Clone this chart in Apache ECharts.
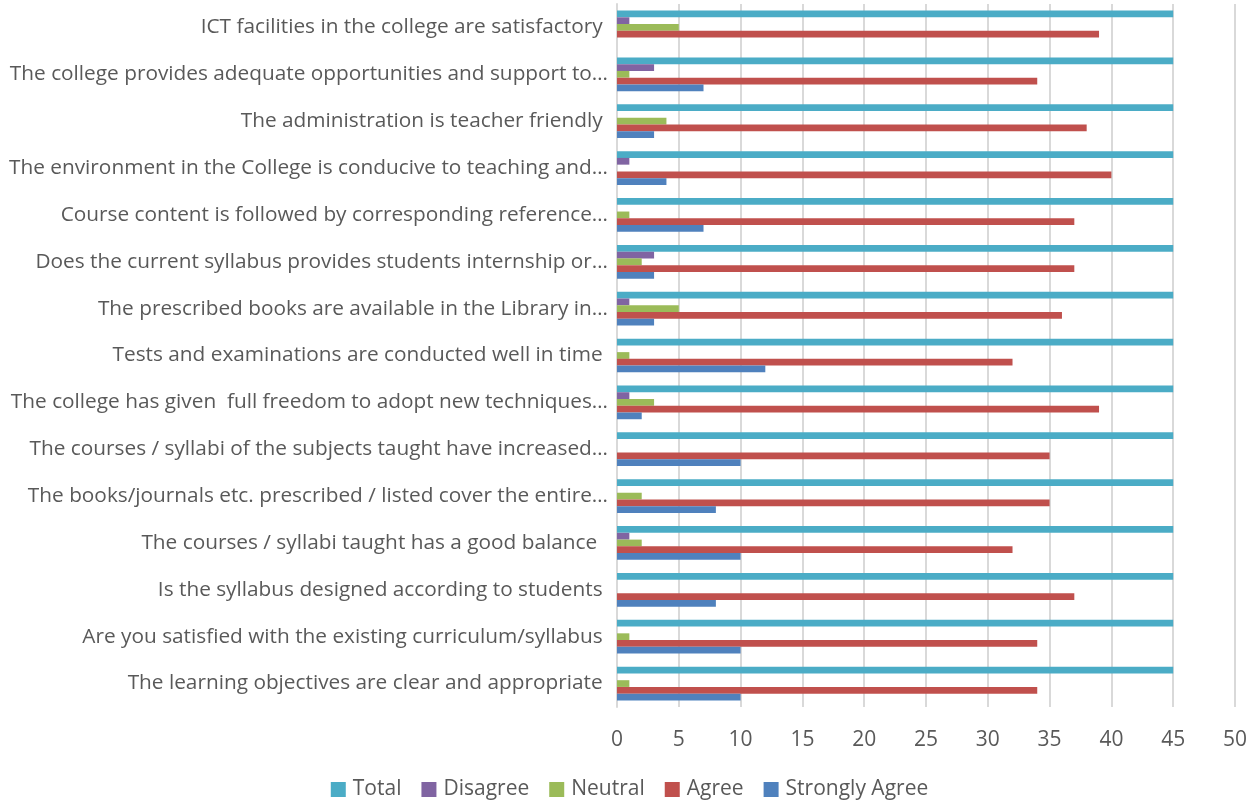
<!DOCTYPE html>
<html>
<head>
<meta charset="utf-8">
<script src="https://cdn.jsdelivr.net/npm/echarts@6/dist/echarts.min.js"></script>
<style>html,body{margin:0;padding:0;background:#fff}#c{width:1259px;height:806px}</style>
</head>
<body>
<div id="c"></div>
<script>
// categories bottom to top
var categories = [
  "The learning objectives are clear and appropriate ",
  "Are you satisfied with the existing curriculum/syllabus ",
  "Is the syllabus designed according to students ",
  "The courses / syllabi taught has a good balance  ",
  "The books/journals etc. prescribed / listed cover the entire…",
  "The courses / syllabi of the subjects taught have increased…",
  "The college has given  full freedom to adopt new techniques…",
  "Tests and examinations are conducted well in time ",
  "The prescribed books are available in the Library in…",
  "Does the current syllabus provides students internship or…",
  "Course content is followed by corresponding reference…",
  "The environment in the College is conducive to teaching and…",
  "The administration is teacher friendly ",
  "The college provides adequate opportunities and support to…",
  "ICT facilities in the college are satisfactory "
];
var stronglyAgree = [10, 10, 8, 10, 8, 10, 2, 12, 3, 3, 7, 4, 3, 7, 0];
var agree         = [34, 34, 37, 32, 35, 35, 39, 32, 36, 37, 37, 40, 38, 34, 39];
var neutral       = [1, 1, 0, 2, 2, 0, 3, 1, 5, 2, 1, 0, 4, 1, 5];
var disagree      = [0, 0, 0, 1, 0, 0, 1, 0, 1, 3, 0, 1, 0, 3, 1];
var total         = [45, 45, 45, 45, 45, 45, 45, 45, 45, 45, 45, 45, 45, 45, 45];
var xTicks = [0, 5, 10, 15, 20, 25, 30, 35, 40, 45, 50];

var font = "'Open Sans', sans-serif";
function s(name, data, color) {
  return {
    name: name, type: 'bar', data: data,
    barGap: '0%', barCategoryGap: '28%',
    itemStyle: { color: color },
    emphasis: { disabled: true }
  };
}
var chart = echarts.init(document.getElementById('c'), null, { renderer: 'canvas' });
chart.setOption({
  animation: false,
  backgroundColor: '#ffffff',
  textStyle: { fontFamily: font },
  grid: { left: 617, right: 24, top: 4, bottom: 99, containLabel: false },
  xAxis: {
    type: 'value', min: xTicks[0], max: xTicks[xTicks.length - 1], interval: 5,
    axisLine: { show: false }, axisTick: { show: false },
    axisLabel: { color: '#595959', fontSize: 21, fontFamily: font, margin: 23 },
    splitLine: { show: true, lineStyle: { color: '#D9D9D9', width: 2 } }
  },
  yAxis: {
    type: 'category', data: categories,
    axisLine: { show: true, lineStyle: { color: '#D9D9D9', width: 2 } },
    axisTick: { show: false },
    axisLabel: { color: '#595959', fontSize: 20.8, fontFamily: font, margin: 9 }
  },
  legend: {
    data: ['Total', 'Disagree', 'Neutral', 'Agree', 'Strongly Agree'],
    bottom: 1, left: 'center',
    icon: 'rect', itemWidth: 15, itemHeight: 15, itemGap: 20,
    textStyle: { color: '#595959', fontSize: 21, fontFamily: font, padding: [0, 0, 0, 2] }
  },
  series: [
    s('Total', total, '#4BACC6'),
    s('Disagree', disagree, '#8064A2'),
    s('Neutral', neutral, '#9BBB59'),
    s('Agree', agree, '#C0504D'),
    s('Strongly Agree', stronglyAgree, '#4F81BD')
  ]
});
</script>
</body>
</html>
